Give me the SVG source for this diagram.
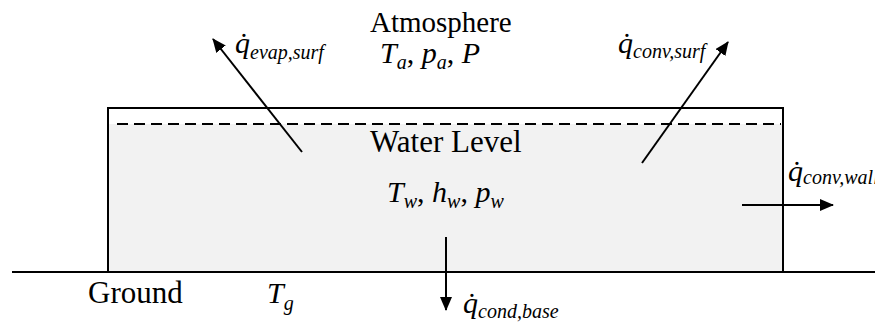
<svg xmlns="http://www.w3.org/2000/svg" width="875" height="324" viewBox="0 0 875 324" font-family="Liberation Serif, Times New Roman, serif">
<style>
.i{font-style:italic}
.ln{stroke:#000;stroke-width:2;fill:none}
.ar{stroke:#000;stroke-width:2;fill:none;marker-end:url(#ah)}
</style>
<defs>
<marker id="ah" viewBox="0 0 14 12" refX="13" refY="6" markerWidth="14" markerHeight="12" markerUnits="userSpaceOnUse" orient="auto">
<path d="M0,0 L14,6 L0,12 Z" fill="#000"/>
</marker>
</defs>
<rect width="875" height="324" fill="#fff"/>
<g id="tank">
<rect x="108" y="124" width="675" height="148" fill="#f2f2f2"/>
<path class="ln" d="M108,272 V108 H783 V272" stroke-width="1.8"/>
<line class="ln" x1="117" y1="124" x2="781" y2="124" stroke-dasharray="11,6"/>
<text x="370" y="152" font-size="31">Water Level</text>
<text class="i" x="387" y="202" font-size="30">T<tspan font-size="20" dy="6">w</tspan><tspan font-style="normal" dy="-6">, </tspan>h<tspan font-size="20" dy="6">w</tspan><tspan font-style="normal" dy="-6">, </tspan>p<tspan font-size="20" dy="6">w</tspan></text>
</g>
<g id="ground">
<line class="ln" x1="12" y1="272" x2="875" y2="272"/>
<text x="88" y="303" font-size="31">Ground</text>
<text class="i" x="267" y="303" font-size="30">T<tspan font-size="20" dy="7">g</tspan></text>
</g>
<g id="atmosphere">
<text x="370" y="32" font-size="29">Atmosphere</text>
<text class="i" x="380" y="63" font-size="30">T<tspan font-size="20" dy="6">a</tspan><tspan font-style="normal" dy="-6">, </tspan>p<tspan font-size="20" dy="6">a</tspan><tspan font-style="normal" dy="-6">, </tspan>P</text>
</g>
<g id="connectors">
<line class="ar" x1="302" y1="152" x2="213" y2="39"/>
<line class="ar" x1="642" y1="163" x2="728" y2="42"/>
<line class="ar" x1="742" y1="205" x2="833" y2="205"/>
<line class="ar" x1="446" y1="237" x2="446" y2="310"/>
</g>
<g id="labels">
<text class="i" x="235" y="53" font-size="30">q̇<tspan font-size="20" dy="6">evap,surf</tspan></text>
<text class="i" x="618" y="53" font-size="30">q̇<tspan font-size="20" dy="5">conv,surf</tspan></text>
<text class="i" x="788" y="181" font-size="30">q̇<tspan font-size="20" dy="3">conv,wall</tspan></text>
<text class="i" x="463" y="313" font-size="30">q̇<tspan font-size="20" dy="5">cond,base</tspan></text>
</g>
</svg>
